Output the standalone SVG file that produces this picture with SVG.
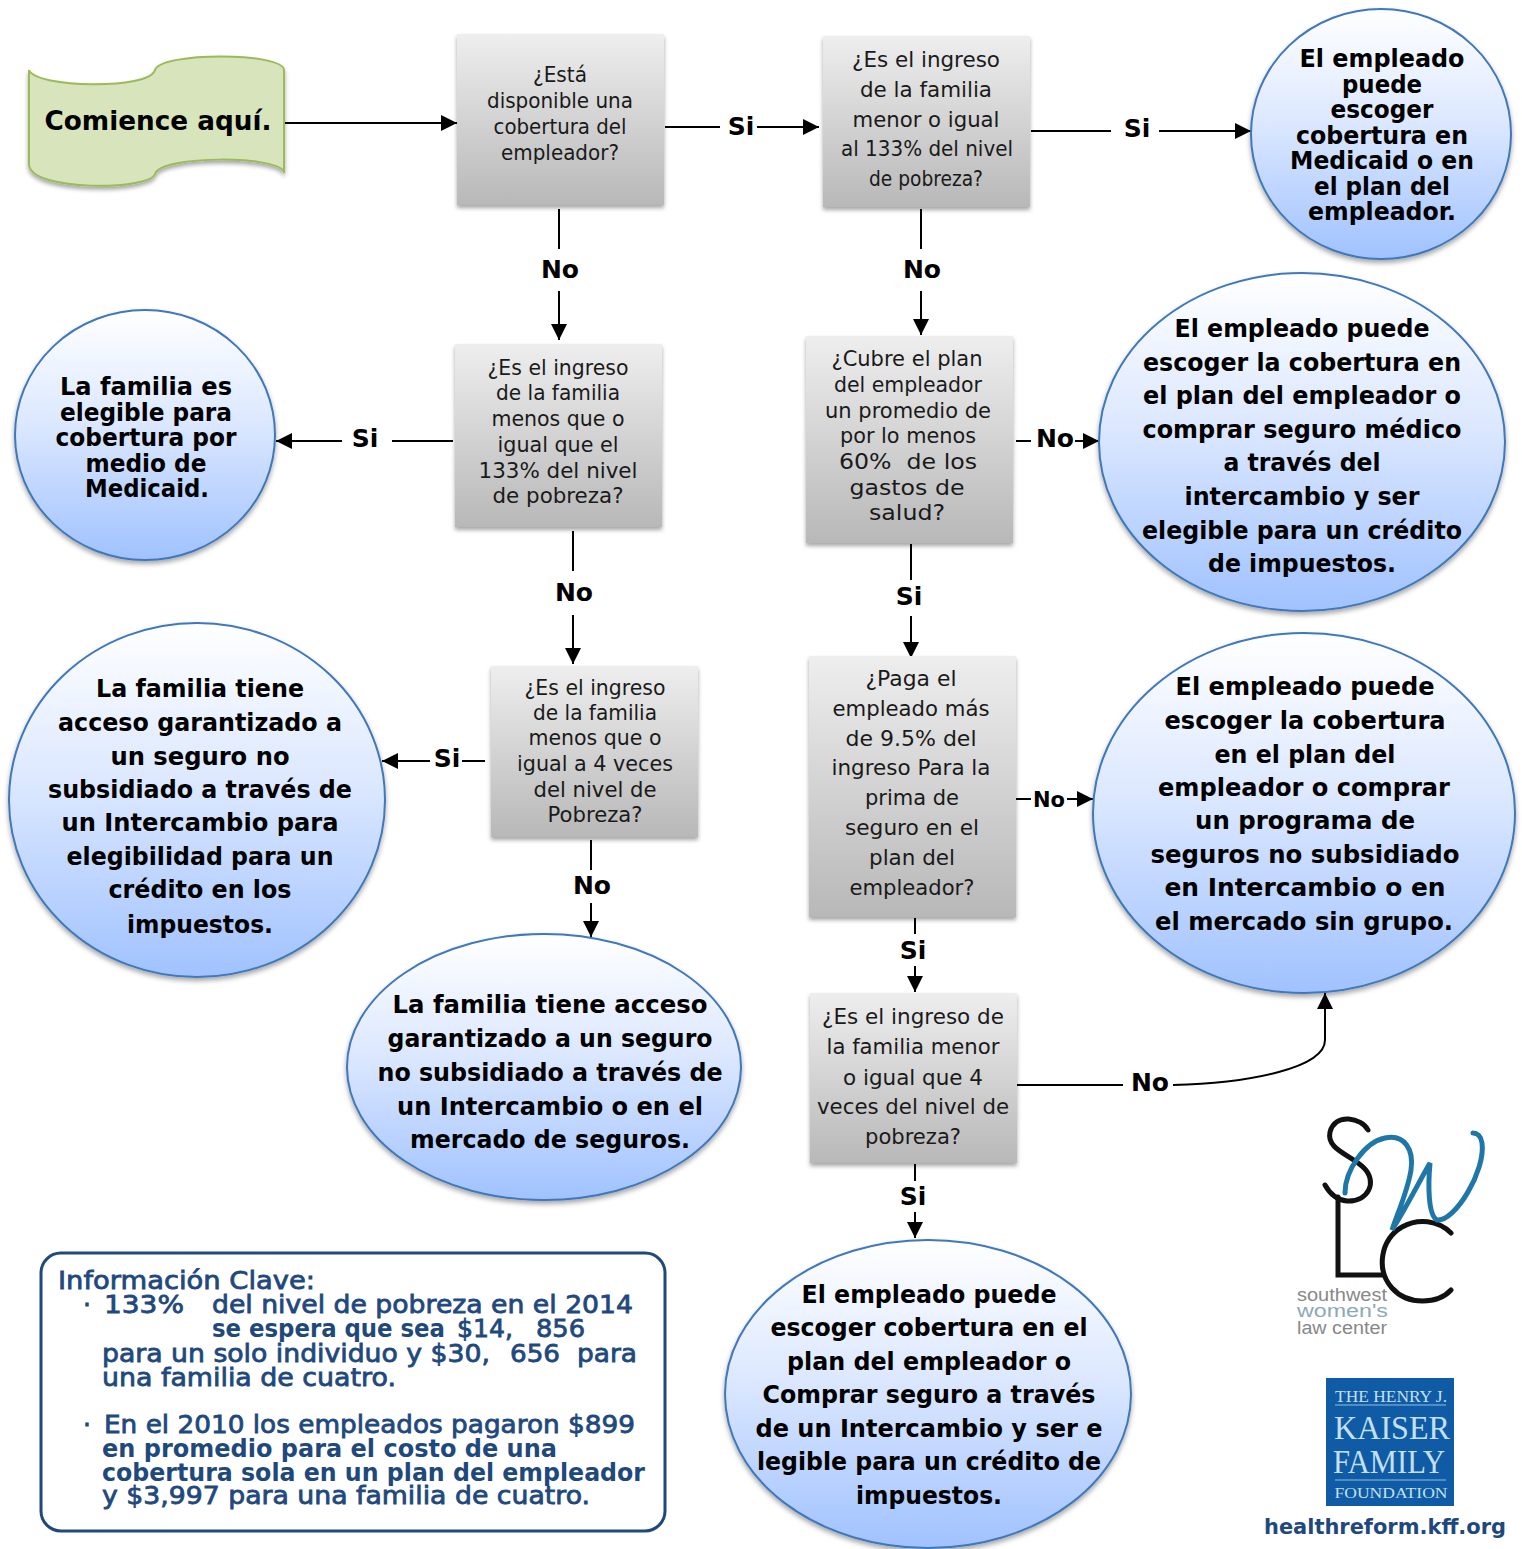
<svg xmlns="http://www.w3.org/2000/svg" width="1522" height="1549" viewBox="0 0 1522 1549">
<style>
text{font-family:"DejaVu Sans","Liberation Sans",sans-serif;text-anchor:middle}
.q{font-size:21px;fill:#1a1a1a}
.b{font-size:25px;font-weight:bold;fill:#000}
.l{font-size:25px;font-weight:bold;fill:#000}
.k{font-size:25px;fill:#1f497d;text-anchor:start;stroke:#1f497d;stroke-width:.8}
.kb{font-size:25px;font-weight:bold;fill:#1f497d;text-anchor:start}
.box{fill:url(#gb);filter:url(#sh)}
.bub{fill:url(#gc);stroke:#3f78bb;stroke-width:2;filter:url(#sh2)}
.c{fill:none;stroke:#000;stroke-width:2}
.a{marker-end:url(#ah)}
.kf{font-family:"Liberation Serif",serif;fill:#c4e0f0}
.sw{font-family:"Liberation Sans",sans-serif;text-anchor:start;font-size:18px}
</style>
<defs>
<linearGradient id="gb" x1="0" y1="0" x2="0" y2="1"><stop offset="0" stop-color="#eeeeee"/><stop offset="1" stop-color="#b8b8b8"/></linearGradient>
<linearGradient id="gc" x1="0" y1="0" x2="0" y2="1"><stop offset="0" stop-color="#ffffff"/><stop offset=".45" stop-color="#dce8ff"/><stop offset="1" stop-color="#a0c2ff"/></linearGradient>
<filter id="sh" x="-10%" y="-10%" width="120%" height="120%"><feDropShadow dx="0" dy="3" stdDeviation="2" flood-color="#000" flood-opacity=".35"/></filter>
<filter id="sh2" x="-10%" y="-10%" width="120%" height="120%"><feDropShadow dx="0" dy="3" stdDeviation="2.5" flood-color="#000" flood-opacity=".35"/></filter>
<marker id="ah" markerUnits="userSpaceOnUse" markerWidth="17" markerHeight="16" refX="16" refY="8" orient="auto"><path d="M0 0L16 8L0 16Z" fill="#000"/></marker>
</defs>

<g id="connectors">
<path class="c a" d="M285 123H457"/>
<path class="c" d="M665 127H720"/><path class="c a" d="M757 127H819"/>
<path class="c" d="M559 209V249"/><path class="c a" d="M559 291V340"/>
<path class="c" d="M1031 131H1111"/><path class="c a" d="M1159 131H1251"/>
<path class="c" d="M921 209V249"/><path class="c a" d="M921 291V335"/>
<path class="c" d="M453 441H392"/><path class="c a" d="M342 441H276"/>
<path class="c" d="M573 531V571"/><path class="c a" d="M573 615V664"/>
<path class="c" d="M1016 441H1031"/><path class="c a" d="M1075 441H1099"/>
<path class="c" d="M911 544V580"/><path class="c a" d="M911 616V658"/>
<path class="c" d="M485 761H462"/><path class="c a" d="M430 761H382"/>
<path class="c" d="M591 840V870"/><path class="c a" d="M591 903V937"/>
<path class="c" d="M1016 799H1031"/><path class="c a" d="M1067 799H1093"/>
<path class="c" d="M915 918V934"/><path class="c a" d="M915 966V992"/>
<path class="c" d="M1017 1085H1123"/><path class="c a" d="M1173 1085C1250 1083 1325 1068 1325 1040V993"/>
<path class="c" d="M915 1164V1181"/><path class="c a" d="M915 1212V1238"/>
</g>

<g id="labels">
<text class="l" x="741" y="135">Si</text>
<text class="l" x="560" y="278">No</text>
<text class="l" x="1137" y="137">Si</text>
<text class="l" x="922" y="278">No</text>
<text class="l" x="365" y="447">Si</text>
<text class="l" x="574" y="601">No</text>
<text class="l" x="1055" y="447">No</text>
<text class="l" x="909" y="605">Si</text>
<text class="l" x="447" y="767">Si</text>
<text class="l" x="592" y="894">No</text>
<text class="l" x="1049" y="807" style="font-size:21px">No</text>
<text class="l" x="913" y="959">Si</text>
<text class="l" x="1150" y="1091">No</text>
<text class="l" x="913" y="1205">Si</text>
</g>

<g id="start">
<path d="M29 70C35 88 150 90 155 70C160 52 283 52 284 70V173C283 155 160 155 155 174C150 190 32 192 29 165Z" fill="#d8e4bc" stroke="#9bbb59" stroke-width="2" filter="url(#sh)"/>
<text x="158" y="130" style="font-size:27px;font-weight:bold" textLength="227" lengthAdjust="spacingAndGlyphs">Comience aquí.</text>
</g>

<g id="q1"><rect class="box" x="457" y="34" width="207" height="171"/>
<text class="q" x="560" y="82" textLength="54" lengthAdjust="spacingAndGlyphs">¿Está</text>
<text class="q" x="560" y="108" textLength="146" lengthAdjust="spacingAndGlyphs">disponible una</text>
<text class="q" x="560" y="134" textLength="133" lengthAdjust="spacingAndGlyphs">cobertura del</text>
<text class="q" x="560" y="160" textLength="118" lengthAdjust="spacingAndGlyphs">empleador?</text></g>

<g id="q2"><rect class="box" x="823" y="36" width="207" height="171"/>
<text class="q" x="926" y="67" textLength="148" lengthAdjust="spacingAndGlyphs">¿Es el ingreso</text>
<text class="q" x="926" y="97" textLength="132" lengthAdjust="spacingAndGlyphs">de la familia</text>
<text class="q" x="926" y="127" textLength="147" lengthAdjust="spacingAndGlyphs">menor o igual</text>
<text class="q" x="927" y="156" textLength="172" lengthAdjust="spacingAndGlyphs">al 133% del nivel</text>
<text class="q" x="926" y="186" textLength="114" lengthAdjust="spacingAndGlyphs">de pobreza?</text></g>

<g id="q3"><rect class="box" x="455" y="344" width="207" height="183"/>
<text class="q" x="558" y="375" textLength="141" lengthAdjust="spacingAndGlyphs">¿Es el ingreso</text>
<text class="q" x="558" y="400" textLength="124" lengthAdjust="spacingAndGlyphs">de la familia</text>
<text class="q" x="558" y="426" textLength="133" lengthAdjust="spacingAndGlyphs">menos que o</text>
<text class="q" x="558" y="452" textLength="121" lengthAdjust="spacingAndGlyphs">igual que el</text>
<text class="q" x="558" y="478" textLength="159" lengthAdjust="spacingAndGlyphs">133% del nivel</text>
<text class="q" x="558" y="503" textLength="131" lengthAdjust="spacingAndGlyphs">de pobreza?</text></g>

<g id="q4"><rect class="box" x="806" y="336" width="207" height="207"/>
<text class="q" x="907" y="366" textLength="151" lengthAdjust="spacingAndGlyphs">¿Cubre el plan</text>
<text class="q" x="908" y="392" textLength="148" lengthAdjust="spacingAndGlyphs">del empleador</text>
<text class="q" x="908" y="418" textLength="166" lengthAdjust="spacingAndGlyphs">un promedio de</text>
<text class="q" x="908" y="443" textLength="136" lengthAdjust="spacingAndGlyphs">por lo menos</text>
<text class="q" x="908" y="469" textLength="138" lengthAdjust="spacingAndGlyphs" xml:space="preserve">60%  de los</text>
<text class="q" x="907" y="495" textLength="115" lengthAdjust="spacingAndGlyphs">gastos de</text>
<text class="q" x="907" y="520" textLength="76" lengthAdjust="spacingAndGlyphs">salud?</text></g>

<g id="q5"><rect class="box" x="491" y="666" width="207" height="171"/>
<text class="q" x="595" y="695" textLength="141" lengthAdjust="spacingAndGlyphs">¿Es el ingreso</text>
<text class="q" x="595" y="720" textLength="124" lengthAdjust="spacingAndGlyphs">de la familia</text>
<text class="q" x="595" y="745" textLength="133" lengthAdjust="spacingAndGlyphs">menos que o</text>
<text class="q" x="595" y="771" textLength="156" lengthAdjust="spacingAndGlyphs">igual a 4 veces</text>
<text class="q" x="595" y="797" textLength="123" lengthAdjust="spacingAndGlyphs">del nivel de</text>
<text class="q" x="595" y="822" textLength="95" lengthAdjust="spacingAndGlyphs">Pobreza?</text></g>

<g id="q6"><rect class="box" x="809" y="656" width="207" height="261"/>
<text class="q" x="911" y="686" textLength="91" lengthAdjust="spacingAndGlyphs">¿Paga el</text>
<text class="q" x="911" y="716" textLength="157" lengthAdjust="spacingAndGlyphs">empleado más</text>
<text class="q" x="911" y="746" textLength="131" lengthAdjust="spacingAndGlyphs">de 9.5% del</text>
<text class="q" x="911" y="775" textLength="159" lengthAdjust="spacingAndGlyphs">ingreso Para la</text>
<text class="q" x="912" y="805" textLength="94" lengthAdjust="spacingAndGlyphs">prima de</text>
<text class="q" x="912" y="835" textLength="134" lengthAdjust="spacingAndGlyphs">seguro en el</text>
<text class="q" x="912" y="865" textLength="86" lengthAdjust="spacingAndGlyphs">plan del</text>
<text class="q" x="912" y="895" textLength="125" lengthAdjust="spacingAndGlyphs">empleador?</text></g>

<g id="q7"><rect class="box" x="810" y="993" width="207" height="170"/>
<text class="q" x="913" y="1024" textLength="182" lengthAdjust="spacingAndGlyphs">¿Es el ingreso de</text>
<text class="q" x="913" y="1054" textLength="173" lengthAdjust="spacingAndGlyphs">la familia menor</text>
<text class="q" x="913" y="1085" textLength="140" lengthAdjust="spacingAndGlyphs">o igual que 4</text>
<text class="q" x="913" y="1114" textLength="192" lengthAdjust="spacingAndGlyphs">veces del nivel de</text>
<text class="q" x="913" y="1144" textLength="96" lengthAdjust="spacingAndGlyphs">pobreza?</text></g>

<g id="r1"><ellipse class="bub" cx="1381" cy="134" rx="130" ry="125"/>
<text class="b" x="1382" y="67" textLength="165" lengthAdjust="spacingAndGlyphs">El empleado</text>
<text class="b" x="1382" y="93" textLength="80" lengthAdjust="spacingAndGlyphs">puede</text>
<text class="b" x="1382" y="118" textLength="103" lengthAdjust="spacingAndGlyphs">escoger</text>
<text class="b" x="1382" y="144" textLength="172" lengthAdjust="spacingAndGlyphs">cobertura en</text>
<text class="b" x="1382" y="169" textLength="184" lengthAdjust="spacingAndGlyphs">Medicaid o en</text>
<text class="b" x="1382" y="195" textLength="136" lengthAdjust="spacingAndGlyphs">el plan del</text>
<text class="b" x="1382" y="220" textLength="148" lengthAdjust="spacingAndGlyphs">empleador.</text></g>

<g id="r2"><ellipse class="bub" cx="145" cy="435" rx="130" ry="125"/>
<text class="b" x="146" y="395" textLength="172" lengthAdjust="spacingAndGlyphs">La familia es</text>
<text class="b" x="146" y="421" textLength="172" lengthAdjust="spacingAndGlyphs">elegible para</text>
<text class="b" x="146" y="446" textLength="181" lengthAdjust="spacingAndGlyphs">cobertura por</text>
<text class="b" x="146" y="472" textLength="121" lengthAdjust="spacingAndGlyphs">medio de</text>
<text class="b" x="147" y="497" textLength="124" lengthAdjust="spacingAndGlyphs">Medicaid.</text></g>

<g id="r3"><ellipse class="bub" cx="1302" cy="442" rx="203" ry="169"/>
<text class="b" x="1302" y="337" textLength="255" lengthAdjust="spacingAndGlyphs">El empleado puede</text>
<text class="b" x="1302" y="371" textLength="318" lengthAdjust="spacingAndGlyphs">escoger la cobertura en</text>
<text class="b" x="1302" y="404" textLength="318" lengthAdjust="spacingAndGlyphs">el plan del empleador o</text>
<text class="b" x="1302" y="438" textLength="319" lengthAdjust="spacingAndGlyphs">comprar seguro médico</text>
<text class="b" x="1302" y="471" textLength="157" lengthAdjust="spacingAndGlyphs">a través del</text>
<text class="b" x="1302" y="505" textLength="235" lengthAdjust="spacingAndGlyphs">intercambio y ser</text>
<text class="b" x="1302" y="539" textLength="320" lengthAdjust="spacingAndGlyphs">elegible para un crédito</text>
<text class="b" x="1302" y="572" textLength="188" lengthAdjust="spacingAndGlyphs">de impuestos.</text></g>

<g id="r4"><ellipse class="bub" cx="197" cy="800" rx="188" ry="177"/>
<text class="b" x="200" y="697" textLength="208" lengthAdjust="spacingAndGlyphs">La familia tiene</text>
<text class="b" x="200" y="731" textLength="284" lengthAdjust="spacingAndGlyphs">acceso garantizado a</text>
<text class="b" x="200" y="765" textLength="179" lengthAdjust="spacingAndGlyphs">un seguro no</text>
<text class="b" x="200" y="798" textLength="304" lengthAdjust="spacingAndGlyphs">subsidiado a través de</text>
<text class="b" x="200" y="831" textLength="277" lengthAdjust="spacingAndGlyphs">un Intercambio para</text>
<text class="b" x="200" y="865" textLength="267" lengthAdjust="spacingAndGlyphs">elegibilidad para un</text>
<text class="b" x="200" y="898" textLength="183" lengthAdjust="spacingAndGlyphs">crédito en los</text>
<text class="b" x="200" y="933" textLength="146" lengthAdjust="spacingAndGlyphs">impuestos.</text></g>

<g id="r5"><ellipse class="bub" cx="1304" cy="813" rx="211" ry="180"/>
<text class="b" x="1305" y="695" textLength="259" lengthAdjust="spacingAndGlyphs">El empleado puede</text>
<text class="b" x="1305" y="729" textLength="281" lengthAdjust="spacingAndGlyphs">escoger la cobertura</text>
<text class="b" x="1305" y="763" textLength="181" lengthAdjust="spacingAndGlyphs">en el plan del</text>
<text class="b" x="1304" y="796" textLength="292" lengthAdjust="spacingAndGlyphs">empleador o comprar</text>
<text class="b" x="1305" y="829" textLength="220" lengthAdjust="spacingAndGlyphs">un programa de</text>
<text class="b" x="1305" y="863" textLength="309" lengthAdjust="spacingAndGlyphs">seguros no subsidiado</text>
<text class="b" x="1305" y="896" textLength="281" lengthAdjust="spacingAndGlyphs">en Intercambio o en</text>
<text class="b" x="1304" y="930" textLength="298" lengthAdjust="spacingAndGlyphs">el mercado sin grupo.</text></g>

<g id="r6"><ellipse class="bub" cx="544" cy="1067" rx="197" ry="133"/>
<text class="b" x="550" y="1013" textLength="315" lengthAdjust="spacingAndGlyphs">La familia tiene acceso</text>
<text class="b" x="550" y="1047" textLength="325" lengthAdjust="spacingAndGlyphs">garantizado a un seguro</text>
<text class="b" x="550" y="1081" textLength="345" lengthAdjust="spacingAndGlyphs">no subsidiado a través de</text>
<text class="b" x="550" y="1115" textLength="306" lengthAdjust="spacingAndGlyphs">un Intercambio o en el</text>
<text class="b" x="550" y="1148" textLength="280" lengthAdjust="spacingAndGlyphs">mercado de seguros.</text></g>

<g id="r7"><ellipse class="bub" cx="928" cy="1394" rx="203" ry="154"/>
<text class="b" x="929" y="1303" textLength="255" lengthAdjust="spacingAndGlyphs">El empleado puede</text>
<text class="b" x="929" y="1336" textLength="317" lengthAdjust="spacingAndGlyphs">escoger cobertura en el</text>
<text class="b" x="929" y="1370" textLength="284" lengthAdjust="spacingAndGlyphs">plan del empleador o</text>
<text class="b" x="929" y="1403" textLength="333" lengthAdjust="spacingAndGlyphs">Comprar seguro a través</text>
<text class="b" x="929" y="1437" textLength="347" lengthAdjust="spacingAndGlyphs">de un Intercambio y ser e</text>
<text class="b" x="929" y="1470" textLength="344" lengthAdjust="spacingAndGlyphs">legible para un crédito de</text>
<text class="b" x="929" y="1504" textLength="146" lengthAdjust="spacingAndGlyphs">impuestos.</text></g>

<g id="key">
<rect x="41" y="1253" width="624" height="278" rx="20" fill="#fff" stroke="#1f497d" stroke-width="3"/>
<text class="k" x="58" y="1289" textLength="257" lengthAdjust="spacingAndGlyphs">Información Clave:</text>
<text class="k" x="83" y="1313">·</text>
<text class="k" x="104" y="1313" textLength="80" lengthAdjust="spacingAndGlyphs">133%</text>
<text class="k" x="212" y="1313" textLength="421" lengthAdjust="spacingAndGlyphs">del nivel de pobreza en el 2014</text>
<text class="kb" x="212" y="1337" textLength="233" lengthAdjust="spacingAndGlyphs">se espera que sea</text>
<text class="k" x="457" y="1337" textLength="56" lengthAdjust="spacingAndGlyphs">$14,</text>
<text class="k" x="536" y="1337" textLength="49" lengthAdjust="spacingAndGlyphs">856</text>
<text class="k" x="102" y="1362" textLength="388" lengthAdjust="spacingAndGlyphs">para un solo individuo y $30,</text>
<text class="k" x="510" y="1362" textLength="50" lengthAdjust="spacingAndGlyphs">656</text>
<text class="k" x="577" y="1362" textLength="60" lengthAdjust="spacingAndGlyphs">para</text>
<text class="k" x="102" y="1386" textLength="294" lengthAdjust="spacingAndGlyphs">una familia de cuatro.</text>
<text class="k" x="83" y="1433">·</text>
<text class="k" x="104" y="1433" textLength="531" lengthAdjust="spacingAndGlyphs">En el 2010 los empleados pagaron $899</text>
<text class="kb" x="102" y="1457" textLength="455" lengthAdjust="spacingAndGlyphs">en promedio para el costo de una</text>
<text class="kb" x="102" y="1481" textLength="543" lengthAdjust="spacingAndGlyphs">cobertura sola en un plan del empleador</text>
<text class="k" x="102" y="1504" textLength="488" lengthAdjust="spacingAndGlyphs">y $3,997 para una familia de cuatro.</text>
</g>

<g id="swlc-logo">
<g fill="none" stroke-linecap="round">
<path d="M1368 1130C1362 1118 1335 1112 1330 1132C1326 1150 1352 1155 1364 1168C1378 1182 1368 1202 1347 1201C1337 1200 1330 1194 1325 1185" stroke="#111" stroke-width="5"/>
<path d="M1338 1197V1275H1383" stroke="#111" stroke-width="5"/>
<path d="M1451 1233C1438 1220 1418 1218 1402 1227C1380 1240 1376 1270 1392 1288C1408 1306 1438 1304 1451 1290" stroke="#111" stroke-width="5"/>
<path d="M1345 1193C1345 1170 1365 1142 1385 1138C1405 1134 1414 1150 1411 1170C1408 1190 1398 1212 1392 1230C1405 1210 1420 1180 1430 1163C1428 1185 1428 1215 1437 1220C1455 1222 1486 1170 1482 1143C1481 1136 1477 1133 1473 1133" stroke="#1f77a8" stroke-width="5"/>
</g>
<text class="sw" x="1297" y="1301" fill="#888" textLength="90" lengthAdjust="spacingAndGlyphs">southwest</text>
<text class="sw" x="1297" y="1317" fill="#8ea8b8" textLength="91" lengthAdjust="spacingAndGlyphs">women's</text>
<text class="sw" x="1297" y="1334" fill="#888" textLength="90" lengthAdjust="spacingAndGlyphs">law center</text>
</g>

<g id="kff-logo">
<rect x="1326" y="1378" width="128" height="128" fill="#0f5ba6"/>
<path d="M1335 1405H1446M1335 1480H1446" stroke="#8fc0e0" stroke-width="1"/>
<text class="kf" x="1391" y="1402" style="font-size:17px" textLength="112" lengthAdjust="spacingAndGlyphs">THE HENRY J.</text>
<text class="kf" x="1392" y="1439" style="font-size:34px" textLength="116" lengthAdjust="spacingAndGlyphs">KAISER</text>
<text class="kf" x="1389" y="1473" style="font-size:34px" textLength="112" lengthAdjust="spacingAndGlyphs">FAMILY</text>
<text class="kf" x="1391" y="1498" style="font-size:15px" textLength="113" lengthAdjust="spacingAndGlyphs">FOUNDATION</text>
</g>

<text id="url" x="1385" y="1534" style="font-size:22px;font-weight:bold;fill:#1f497d" textLength="242" lengthAdjust="spacingAndGlyphs">healthreform.kff.org</text>
</svg>
